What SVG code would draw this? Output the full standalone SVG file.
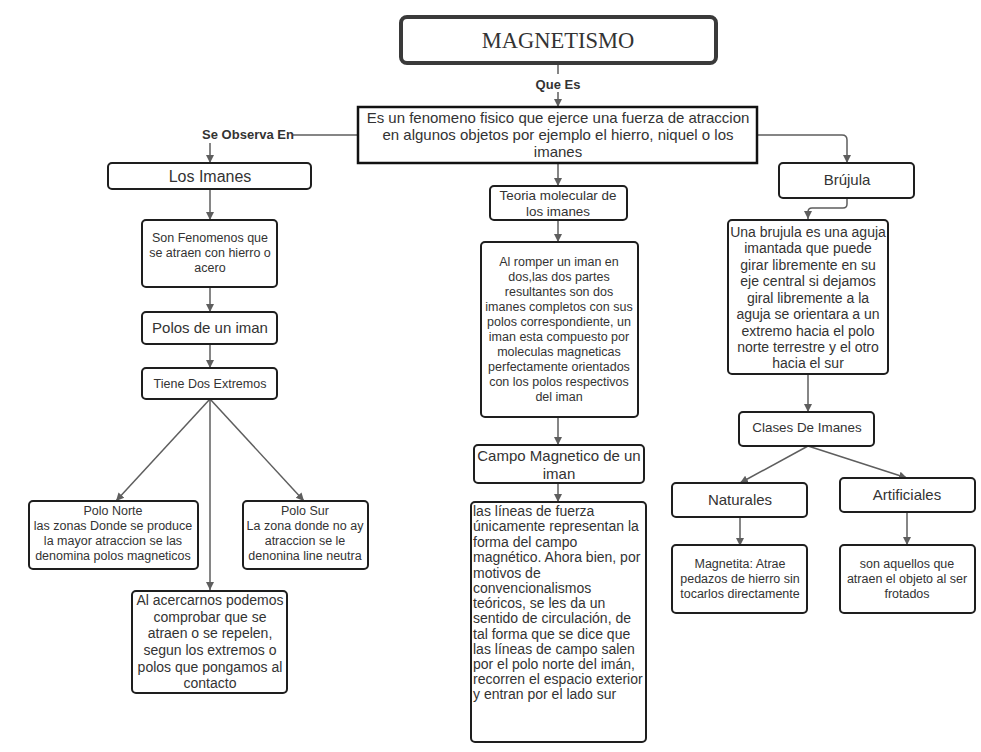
<svg xmlns="http://www.w3.org/2000/svg" width="981" height="752" viewBox="0 0 981 752">
<style>
.bx{fill:#fff;stroke:#1e1e1e;stroke-width:2}
.t{font-family:"Liberation Sans",Arial,sans-serif;fill:#333;text-anchor:middle}
.s12{font-size:12.5px}
.s13{font-size:13.4px}
.s14{font-size:14px}
.s15{font-size:15px}
.lb{font-family:"Liberation Sans",Arial,sans-serif;font-size:13px;font-weight:bold;fill:#333;text-anchor:middle}
.c{fill:none;stroke:#5e5e5e;stroke-width:1.5}
.ca{fill:none;stroke:#5e5e5e;stroke-width:1.5;marker-end:url(#ah)}
</style>
<defs>
<marker id="ah" markerWidth="8" markerHeight="10" refX="8" refY="5" orient="auto" markerUnits="userSpaceOnUse">
<path d="M0,1 L8,5 L0,9 Z" fill="#5e5e5e"/>
</marker>
</defs>
<rect width="981" height="752" fill="#fff"/>

<g id="connectors">
<line class="c" x1="558" y1="63" x2="558" y2="74"/>
<line class="ca" x1="558" y1="92" x2="558" y2="107"/>
<line class="c" x1="358" y1="135" x2="293" y2="135"/>
<line class="ca" x1="210" y1="143" x2="210" y2="163"/>
<line class="ca" x1="210" y1="189" x2="210" y2="220"/>
<line class="ca" x1="210" y1="287" x2="210" y2="312"/>
<line class="ca" x1="210" y1="344" x2="210" y2="368"/>
<line class="ca" x1="210" y1="399" x2="116" y2="501"/>
<line class="ca" x1="210" y1="399" x2="304" y2="501"/>
<line class="ca" x1="210" y1="399" x2="210" y2="590"/>
<line class="ca" x1="558" y1="163" x2="558" y2="186"/>
<line class="ca" x1="558" y1="220" x2="558" y2="242"/>
<line class="ca" x1="558" y1="417" x2="558" y2="445"/>
<line class="ca" x1="558" y1="483" x2="558" y2="502"/>
<path class="ca" d="M757,135 H842 Q847,135 847,140 V163"/>
<path class="ca" d="M847,198 V204 Q847,208 843,208 H812 Q808,208 808,212 V219"/>
<line class="ca" x1="808" y1="374" x2="808" y2="412"/>
<line class="ca" x1="808" y1="446" x2="740" y2="483"/>
<line class="ca" x1="808" y1="446" x2="907" y2="478"/>
<line class="ca" x1="740" y1="517" x2="740" y2="546"/>
<line class="ca" x1="907" y1="512" x2="907" y2="545"/>
<text class="lb" x="558" y="89">Que Es</text>
<text class="lb" x="248" y="139">Se Observa En</text>
</g>

<g id="n-magnetismo">
<rect x="401" y="17" width="315" height="46" rx="6" fill="#fff" stroke="#3a3a3a" stroke-width="4"/>
<text x="558" y="48" font-family="Liberation Serif,'Times New Roman',serif" font-size="22.5" fill="#333" text-anchor="middle">MAGNETISMO</text>
</g>

<g id="n-definicion">
<rect x="358" y="107" width="399" height="56" fill="#fff" stroke="#111" stroke-width="2.5"/>
<text class="t s15" x="558" y="123">Es un fenomeno fisico que ejerce una fuerza de atraccion</text>
<text class="t s15" x="558" y="140">en algunos objetos por ejemplo el hierro, niquel o los</text>
<text class="t s15" x="558" y="157">imanes</text>
</g>

<g id="n-los-imanes">
<rect class="bx" x="108" y="163" width="203" height="26" rx="4"/>
<text class="t" font-size="16" x="210" y="182">Los Imanes</text>
</g>

<g id="n-son-fenomenos">
<rect class="bx" x="142" y="220" width="135" height="67" rx="4"/>
<text class="t s12" x="210" y="242">Son Fenomenos que</text>
<text class="t s12" x="210" y="257">se atraen con hierro o</text>
<text class="t s12" x="210" y="272">acero</text>
</g>

<g id="n-polos">
<rect class="bx" x="142" y="312" width="135" height="32" rx="4"/>
<text class="t s15" x="210" y="333">Polos de un iman</text>
</g>

<g id="n-tiene-dos">
<rect class="bx" x="142" y="368" width="135" height="31" rx="4"/>
<text class="t s12" x="210" y="388">Tiene Dos Extremos</text>
</g>

<g id="n-polo-norte">
<rect class="bx" x="29" y="501" width="169" height="68" rx="4"/>
<text class="t s12" x="113" y="515">Polo Norte</text>
<text class="t s12" x="113" y="530">las zonas Donde se produce</text>
<text class="t s12" x="113" y="545">la mayor atraccion se las</text>
<text class="t s12" x="113" y="560">denomina polos magneticos</text>
</g>

<g id="n-polo-sur">
<rect class="bx" x="243" y="501" width="125" height="68" rx="4"/>
<text class="t s12" x="305" y="515">Polo Sur</text>
<text class="t s12" x="305" y="530">La zona donde no ay</text>
<text class="t s12" x="305" y="545">atraccion se le</text>
<text class="t s12" x="305" y="560">denonina line neutra</text>
</g>

<g id="n-al-acercarnos">
<rect class="bx" x="132" y="591" width="155" height="102" rx="4"/>
<text class="t s14" x="210" y="605">Al acercarnos podemos</text>
<text class="t s14" x="210" y="622">comprobar que se</text>
<text class="t s14" x="210" y="638">atraen o se repelen,</text>
<text class="t s14" x="210" y="655">segun los extremos o</text>
<text class="t s14" x="210" y="672">polos que pongamos al</text>
<text class="t s14" x="210" y="688">contacto</text>
</g>

<g id="n-teoria">
<rect class="bx" x="490" y="186" width="137" height="34" rx="4"/>
<text class="t s13" x="558" y="200">Teoria molecular de</text>
<text class="t s13" x="558" y="216">los imanes</text>
</g>

<g id="n-al-romper">
<rect class="bx" x="481" y="242" width="157" height="175" rx="4"/>
<text class="t s12" x="559" y="266">Al romper un iman en</text>
<text class="t s12" x="559" y="281">dos,las dos partes</text>
<text class="t s12" x="559" y="296">resultantes son dos</text>
<text class="t s12" x="559" y="311">imanes completos con sus</text>
<text class="t s12" x="559" y="326">polos correspondiente, un</text>
<text class="t s12" x="559" y="341">iman esta compuesto por</text>
<text class="t s12" x="559" y="356">moleculas magneticas</text>
<text class="t s12" x="559" y="371">perfectamente orientados</text>
<text class="t s12" x="559" y="386">con los polos respectivos</text>
<text class="t s12" x="559" y="401">del iman</text>
</g>

<g id="n-campo">
<rect class="bx" x="474" y="445" width="170" height="38" rx="4"/>
<text class="t s15" x="559" y="461">Campo Magnetico de un</text>
<text class="t s15" x="559" y="479">iman</text>
</g>

<g id="n-lineas">
<rect class="bx" x="471" y="502" width="175" height="240" rx="4"/>
<g class="s14" font-family="Liberation Sans,Arial,sans-serif" fill="#333">
<text x="473" y="516">las líneas de fuerza</text>
<text x="473" y="531">únicamente representan la</text>
<text x="473" y="547">forma del campo</text>
<text x="473" y="562">magnético. Ahora bien, por</text>
<text x="473" y="578">motivos de</text>
<text x="473" y="593">convencionalismos</text>
<text x="473" y="608">teóricos, se les da un</text>
<text x="473" y="623">sentido de circulación, de</text>
<text x="473" y="639">tal forma que se dice que</text>
<text x="473" y="654">las líneas de campo salen</text>
<text x="473" y="669">por el polo norte del imán,</text>
<text x="473" y="684">recorren el espacio exterior</text>
<text x="473" y="699">y entran por el lado sur</text>
</g>
</g>

<g id="n-brujula">
<rect class="bx" x="779" y="163" width="135" height="35" rx="4"/>
<text class="t s15" x="847" y="185">Brújula</text>
</g>

<g id="n-una-brujula">
<rect class="bx" x="728" y="220" width="160" height="154" rx="4"/>
<text class="t s14" x="808" y="237">Una brujula es una aguja</text>
<text class="t s14" x="808" y="253">imantada que puede</text>
<text class="t s14" x="808" y="270">girar libremente en su</text>
<text class="t s14" x="808" y="286">eje central si dejamos</text>
<text class="t s14" x="808" y="303">giral libremente a la</text>
<text class="t s14" x="808" y="319">aguja se orientara a un</text>
<text class="t s14" x="808" y="336">extremo hacia el polo</text>
<text class="t s14" x="808" y="352">norte terrestre y el otro</text>
<text class="t s14" x="808" y="368">hacia el sur</text>
</g>

<g id="n-clases">
<rect class="bx" x="739" y="412" width="135" height="34" rx="4"/>
<text class="t s13" x="807" y="432">Clases De Imanes</text>
</g>

<g id="n-naturales">
<rect class="bx" x="672" y="483" width="135" height="34" rx="4"/>
<text class="t s15" x="740" y="505">Naturales</text>
</g>

<g id="n-artificiales">
<rect class="bx" x="840" y="478" width="135" height="34" rx="4"/>
<text class="t s15" x="907" y="500">Artificiales</text>
</g>

<g id="n-magnetita">
<rect class="bx" x="672" y="545" width="135" height="68" rx="4"/>
<text class="t s12" x="740" y="568">Magnetita: Atrae</text>
<text class="t s12" x="740" y="583">pedazos de hierro sin</text>
<text class="t s12" x="740" y="598">tocarlos directamente</text>
</g>

<g id="n-son-aquellos">
<rect class="bx" x="840" y="545" width="135" height="68" rx="4"/>
<text class="t s12" x="907" y="568">son aquellos que</text>
<text class="t s12" x="907" y="583">atraen el objeto al ser</text>
<text class="t s12" x="907" y="598">frotados</text>
</g>
</svg>
